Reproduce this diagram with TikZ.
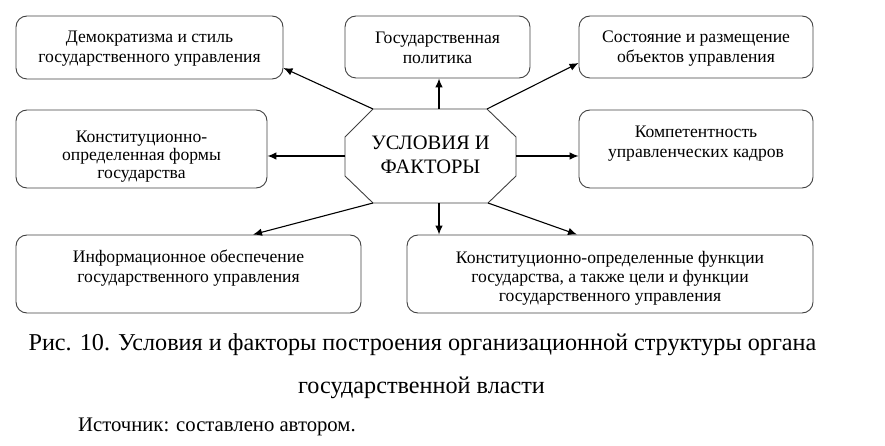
\documentclass[tikz,border=0pt]{standalone}
\usepackage{fontspec}
\newfontfamily\tnr{Liberation Serif}
\usetikzlibrary{arrows.meta}
\begin{document}
\begin{tikzpicture}[x=1pt,y=-1pt,
  box/.style={draw=black!75,line width=0.9pt,rounded corners=11pt,inner sep=0pt},
  boxtext/.style={align=center,inner sep=0pt,font=\tnr\fontsize{17.6pt}{20pt}\selectfont},
  arr/.style={line width=1.1pt,-{Latex[length=9pt,width=7.5pt]}}]
\useasboundingbox (0,0) rectangle (885,446);
% boxes
\node[box,minimum width=267pt,minimum height=63pt] (b1) at (149.5,47.5) {};
\node[box,minimum width=185pt,minimum height=62pt] (bT) at (437.5,47) {};
\node[box,minimum width=234pt,minimum height=62pt] (bTR) at (696,47) {};
\node[box,minimum width=251pt,minimum height=78pt] (b2) at (141.5,149) {};
\node[box,minimum width=234pt,minimum height=78pt] (bMR) at (696,149) {};
\node[box,minimum width=345pt,minimum height=78pt] (bBL) at (188.5,274) {};
\node[box,minimum width=406pt,minimum height=78pt] (bBR) at (610,274) {};
% texts
\node[boxtext] (t1) at (149.5,48.5) {Демократизма и стиль\\государственного управления};
\node[boxtext] (tT) at (437.5,48) {Государственная\\политика};
\node[boxtext] (tTR) at (696,49) {Состояние и размещение\\объектов управления};
\node[boxtext,font=\tnr\fontsize{17.6pt}{17.7pt}\selectfont] (t2) at (141.5,156.5) {Конституционно-\\определенная формы\\государства};
\node[boxtext] (tMR) at (696,144) {Компетентность\\управленческих кадров};
\node[boxtext] (tBL) at (188.5,268) {Информационное обеспечение\\государственного управления};
\node[boxtext,font=\tnr\fontsize{17.6pt}{19.2pt}\selectfont] (tBR) at (610,278.5) {Конституционно-определенные функции\\государства, а также цели и функции\\государственного управления};
% octagon
\coordinate (oTL) at (373,109);
\coordinate (oTR) at (487,109);
\coordinate (oRT) at (516,137);
\coordinate (oRB) at (516,176);
\coordinate (oBR) at (488,203);
\coordinate (oBL) at (373,203);
\coordinate (oLB) at (345,176);
\coordinate (oLT) at (345,137);
\coordinate (oT) at (439,109);
\coordinate (oB) at (439,203);
\coordinate (oL) at (345,156);
\coordinate (oR) at (516,156);
\draw[line width=0.9pt,draw=black!75] (oTL) -- (oTR) -- (oRT) -- (oRB) -- (oBR) -- (oBL) -- (oLB) -- (oLT) -- cycle;
\node[align=center,inner sep=0pt,font=\tnr\fontsize{20.5pt}{23.4pt}\selectfont] (c) at (430.5,155) {УСЛОВИЯ И\\ФАКТОРЫ};
% arrows
\draw[arr] (oTL) -- ([yshift=-20.5pt]b1.east);
\draw[arr] (oT) -- (oT |- bT.south);
\draw[arr] (oTR) -- ([yshift=-16pt]bTR.west);
\draw[arr] (oL) -- (oL -| b2.east);
\draw[arr] (oR) -- (oR -| bMR.west);
\draw[arr] (oBL) -- ([xshift=64.5pt]bBL.north);
\draw[arr] (oB) -- (oB |- bBR.north);
\draw[arr] (oBR) -- ([xshift=-33pt]bBR.north);
% caption
\node[anchor=base,inner sep=0pt,font=\tnr\fontsize{24.2pt}{24pt}\selectfont] (cap1) at (422.5,350) {Рис. 10. Условия и факторы построения организационной структуры органа};
\node[anchor=base,inner sep=0pt,font=\tnr\fontsize{24.2pt}{24pt}\selectfont] (cap2) at (421.5,393) {государственной власти};
\node[anchor=base west,inner sep=0pt,font=\tnr\fontsize{20.7pt}{20.7pt}\selectfont] (src) at (78,431.7) {Источник: составлено автором.};
\end{tikzpicture}
\end{document}
